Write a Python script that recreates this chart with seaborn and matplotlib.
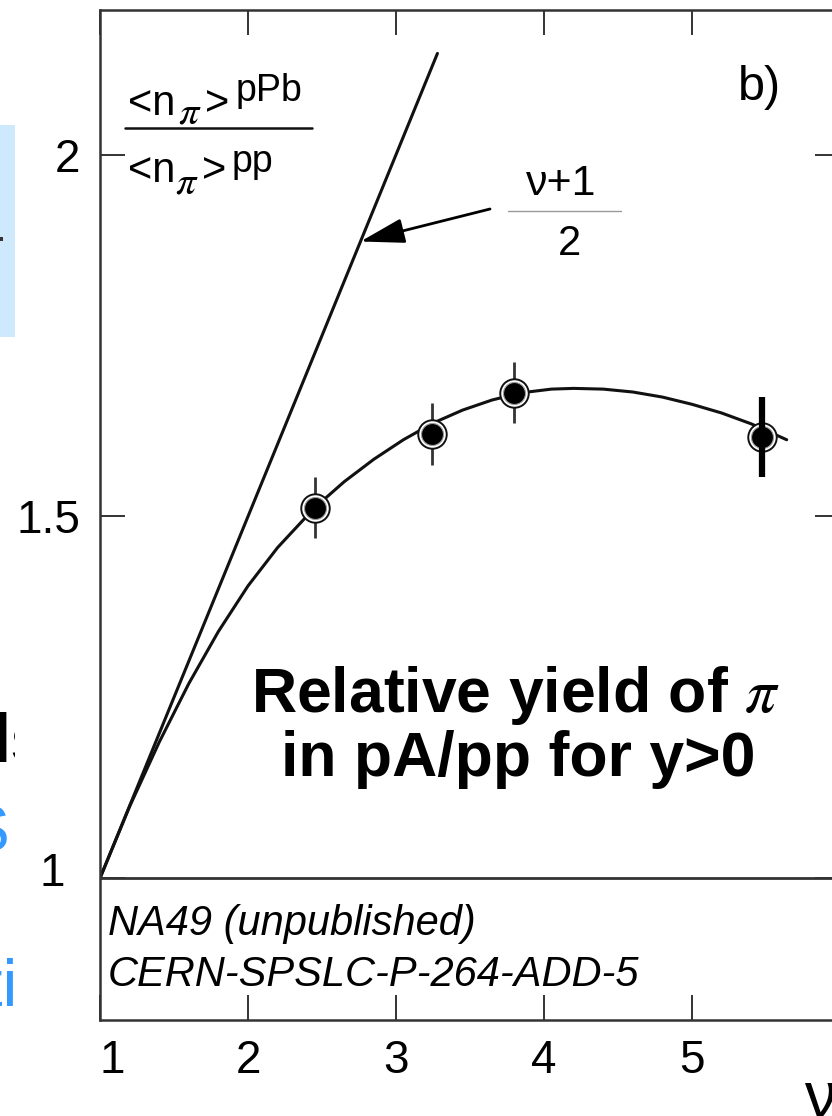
import matplotlib
matplotlib.use("Agg")
import matplotlib.pyplot as plt
from matplotlib.patches import Rectangle
from matplotlib.lines import Line2D
from matplotlib.transforms import ScaledTranslation
import seaborn as sns

# NA49: ratio of mean pion multiplicity in pPb to pp versus number of collisions nu
nu_points = [2.45, 3.24, 3.80, 5.47]
ratio_points = [1.512, 1.614, 1.671, 1.610]
ratio_errors = [0.042, 0.043, 0.042, 0.055]

# smooth trend curve through the measurements
curve_nu = [1.0, 1.2, 1.4, 1.6, 1.8, 2.0, 2.2, 2.45, 2.65, 2.85, 3.05, 3.25,
            3.45, 3.65, 3.85, 4.05, 4.2, 4.4, 4.6, 4.8, 5.0, 5.2, 5.4, 5.64]
curve_ratio = [1.000, 1.099, 1.188, 1.269, 1.341, 1.404, 1.457, 1.512, 1.548,
               1.579, 1.606, 1.629, 1.647, 1.661, 1.671, 1.676, 1.677, 1.676,
               1.672, 1.665, 1.655, 1.643, 1.628, 1.606]

# wounded-nucleon expectation (nu+1)/2
scaling_nu = [1.0, 3.28]
scaling_ratio = [1.0, 2.14]

x_ticks = [1, 2, 3, 4, 5]
x_tick_labels = ["1", "2", "3", "4", "5"]
y_ticks = [1.0, 1.5, 2.0]
y_tick_labels = ["1", "1.5", "2"]

sns.set_style("ticks")
plt.rcParams["font.family"] = ["Liberation Sans", "DejaVu Sans"]
plt.rcParams["mathtext.fontset"] = "stix"
plt.rcParams["text.color"] = "black"

W, H = 832, 1116
fig = plt.figure(figsize=(W / 100, H / 100), dpi=100)
fig.patch.set_facecolor("white")


def P(px, py):
    """pixel position (from top-left) -> figure fraction"""
    return px / W, 1 - py / H


INK = "#111111"

# --- slide remnants on the far left edge ---
fig.add_artist(Rectangle(P(0, 337), 15 / W, 212 / H, transform=fig.transFigure,
                         facecolor="#cde9fb", edgecolor="none", zorder=-3))
fig.add_artist(Rectangle(P(0, 241), 3 / W, 4 / H, transform=fig.transFigure,
                         facecolor="#333333", edgecolor="none", zorder=-2.5))
fig.text(*P(-9, 762), "ls", fontsize=50, fontweight="bold", color="black",
         ha="left", va="baseline", zorder=-2)
fig.text(*P(9, 851), "S", fontsize=46, color="#3399ff",
         ha="right", va="baseline", zorder=-2)
fig.text(*P(17, 1005), "ti", fontsize=48, color="#3399ff",
         ha="right", va="baseline", zorder=-2)
fig.add_artist(Rectangle(P(15, H), 1 - 15 / W, 1, transform=fig.transFigure,
                         facecolor="white", edgecolor="none", zorder=-1))

# --- main panel ---
left, bottom = P(100, 1020)
right, top = P(840, 10)
ax = fig.add_axes([left, bottom, right - left, top - bottom])
ax.set_facecolor("white")
ax.set_xlim(1.0, 6.0)
ax.set_ylim(0.804, 2.2)

sns.lineplot(x=scaling_nu, y=scaling_ratio, ax=ax, color=INK, lw=2.2, zorder=2)
sns.lineplot(x=curve_nu, y=curve_ratio, ax=ax, color=INK, lw=2.2, zorder=2)
ax.axhline(1.0, color="#333333", lw=2.0, zorder=2)

# error bars (last point drawn heavier)
ax.errorbar(nu_points[:-1], ratio_points[:-1], yerr=ratio_errors[:-1], fmt="none",
            ecolor="#333333", elinewidth=2.0, capsize=0, zorder=3)

# ringed black markers
sns.scatterplot(x=nu_points, y=ratio_points, ax=ax, s=420, color="white",
                edgecolor=INK, linewidth=1.4, zorder=4)
sns.scatterplot(x=nu_points, y=ratio_points, ax=ax, s=250, color="black",
                edgecolor="#9a9a9a", linewidth=0.8, zorder=5)
ax.errorbar(nu_points[-1:], ratio_points[-1:], yerr=ratio_errors[-1:], fmt="none",
            ecolor="black", elinewidth=4.5, capsize=0, zorder=6)

ax.set_xticks(x_ticks)
ax.set_xticklabels(x_tick_labels)
ax.set_yticks(y_ticks)
ax.set_yticklabels(y_tick_labels)
ax.tick_params(axis="both", direction="in", length=18, width=1.4, color="#333333",
               labelsize=33, labelcolor="black", pad=14,
               top=True, right=True)
for sp in ax.spines.values():
    sp.set_visible(True)
    sp.set_color("#333333")
    sp.set_linewidth(1.8)
ax.set_xlabel("")
ax.set_ylabel("")

# the "1" labels sit slightly off their ticks, clear of the corner
xl1 = ax.get_xticklabels()[0]
xl1.set_transform(xl1.get_transform() + ScaledTranslation(12 / 100, 0, fig.dpi_scale_trans))
yl1 = ax.get_yticklabels()[0]
yl1.set_transform(yl1.get_transform() + ScaledTranslation(-16 / 100, 9 / 100, fig.dpi_scale_trans))

# --- annotations ---
# y quantity written as a fraction in the upper left corner
fig.text(*P(128, 115), "<n", fontsize=30, ha="left", va="baseline")
fig.text(*P(178, 124), r"$\pi$", fontsize=29, ha="left", va="baseline")
fig.text(*P(205, 115), ">", fontsize=30, ha="left", va="baseline")
fig.text(*P(236, 101), "pPb", fontsize=27, ha="left", va="baseline")
fig.add_artist(Line2D([125 / W, 312 / W], [1 - 128 / H] * 2, transform=fig.transFigure,
                      color=INK, lw=1.8))
fig.text(*P(128, 182), "<n", fontsize=30, ha="left", va="baseline")
fig.text(*P(175, 193), r"$\pi$", fontsize=29, ha="left", va="baseline")
fig.text(*P(202, 182), ">", fontsize=30, ha="left", va="baseline")
fig.text(*P(232, 172), "pp", fontsize=27, ha="left", va="baseline")

fig.text(*P(738, 100), "b)", fontsize=35, ha="left", va="baseline")

# (nu+1)/2 label with arrow onto the scaling line
fig.text(*P(561, 195), "ν+1", fontsize=31, ha="center", va="baseline")
fig.add_artist(Line2D([508 / W, 621 / W], [1 - 211 / H] * 2, transform=fig.transFigure,
                      color="#999999", lw=1.0))
fig.text(*P(569, 255), "2", fontsize=30, ha="center", va="baseline")
ax.annotate("", xy=(2.76, 1.88), xycoords="data",
            xytext=P(490, 209), textcoords="figure fraction",
            arrowprops=dict(arrowstyle="-|>,head_length=0.85,head_width=0.24",
                            color="black", lw=2.0, mutation_scale=32,
                            shrinkA=0, shrinkB=0))

fig.text(*P(515, 712), r"Relative yield of $\pi$", fontsize=45, fontweight="bold",
         ha="center", va="baseline")
fig.text(*P(518, 776), "in pA/pp for y>0", fontsize=45, fontweight="bold",
         ha="center", va="baseline")

fig.text(*P(108, 935), "NA49 (unpublished)", fontsize=30, style="italic",
         ha="left", va="baseline")
fig.text(*P(108, 986), "CERN-SPSLC-P-264-ADD-5", fontsize=30, style="italic",
         ha="left", va="baseline")

# x axis quantity, partly beyond the lower right corner
fig.text(*P(804, 1117), "ν", fontsize=46, ha="left", va="baseline")

fig.savefig("out.png", dpi=100)
